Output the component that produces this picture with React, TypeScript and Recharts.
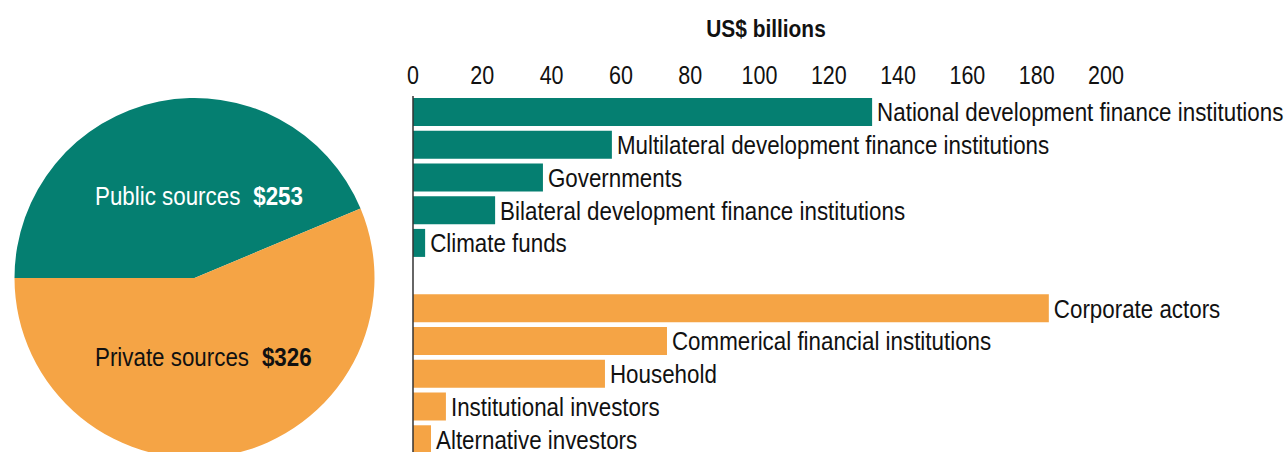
import React from 'react';
import { PieChart, Pie, Cell, BarChart, Bar, XAxis, YAxis, LabelList } from 'recharts';

const FONT = '"Liberation Sans", Arial, sans-serif';
const SX = 0.86;
const TEAL = '#057F71';
const ORANGE = '#F5A445';

const sourceNames = ['Public sources', 'Private sources'];
const sourceTotals = [253, 326];
const sourceKeys = ['public', 'private'];

const categories = [
  'National development finance institutions',
  'Multilateral development finance institutions',
  'Governments',
  'Bilateral development finance institutions',
  'Climate funds',
  '',
  'Corporate actors',
  'Commerical financial institutions',
  'Household',
  'Institutional investors',
  'Alternative investors',
];
const values: (number | null)[] = [132.5, 57.4, 37.5, 23.7, 3.5, null, 183.5, 73.3, 55.4, 9.5, 5.2];
const groups = ['public', 'public', 'public', 'public', 'public', '', 'private', 'private', 'private', 'private', 'private'];
const xTicks = [0, 20, 40, 60, 80, 100, 120, 140, 160, 180, 200];

const colorOf: Record<string, string> = { public: TEAL, private: ORANGE };
const labelColor: Record<string, string> = { public: '#ffffff', private: '#111111' };

const pieData = sourceNames.map((n, i) => ({ name: n, value: sourceTotals[i], key: sourceKeys[i] }));
const barData = categories.map((c, i) => ({ name: c, value: values[i], group: groups[i] }));

const labelOffsets: Record<string, { dx: number; dy: number }> = {
  public: { dx: -99.5, dy: -73 },
  private: { dx: -99.5, dy: 88 },
};

const renderPieLabel = (props: any) => {
  const { cx, cy, index } = props;
  const d = pieData[index];
  const o = labelOffsets[d.key];
  return (
    <text
      transform={`translate(${cx + o.dx}, ${cy + o.dy}) scale(${SX}, 1)`}
      x={0}
      y={0}
      textAnchor="start"
      fill={labelColor[d.key]}
      fontFamily={FONT}
      fontSize={26}
    >
      <tspan>{d.name}</tspan>
      <tspan dx={15} fontWeight="bold">{'$' + d.value}</tspan>
    </text>
  );
};

const renderTick = (props: any) => {
  const { x, y, payload } = props;
  return (
    <text
      transform={`translate(${x}, ${y - 4}) scale(${SX}, 1)`}
      x={0}
      y={0}
      textAnchor="middle"
      fill="#111"
      fontFamily={FONT}
      fontSize={25}
    >
      {payload.value}
    </text>
  );
};

const renderBarLabel = (props: any) => {
  const { x, y, width, height, value } = props;
  if (!value) return null;
  const tx = Number(x) + Number(width) + 5;
  const ty = Number(y) + Number(height) / 2;
  return (
    <text
      transform={`translate(${tx}, ${ty}) scale(${SX}, 1)`}
      x={0}
      y={0}
      dy="0.36em"
      textAnchor="start"
      fill="#111"
      fontFamily={FONT}
      fontSize={26}
    >
      {value}
    </text>
  );
};

export default function App() {
  return (
    <div style={{ position: 'absolute', left: 0, top: 0, width: 1285, height: 452, overflow: 'hidden', background: '#fff', fontFamily: FONT }}>
      <div style={{ position: 'absolute', left: 0, top: 0 }}>
        <PieChart width={400} height={452} margin={{ top: 0, right: 0, bottom: 0, left: 0 }}>
          <Pie
            data={pieData}
            dataKey="value"
            nameKey="name"
            cx={194.5}
            cy={278}
            outerRadius={180}
            innerRadius={0}
            startAngle={180}
            endAngle={-180}
            stroke="none"
            isAnimationActive={false}
            labelLine={false}
            label={renderPieLabel}
          >
            {pieData.map((d) => (
              <Cell key={d.key} fill={colorOf[d.key]} />
            ))}
          </Pie>
        </PieChart>
      </div>
      <div
        style={{
          position: 'absolute',
          left: 413,
          width: 706,
          top: 15,
          textAlign: 'center',
          fontFamily: FONT,
          fontWeight: 'bold',
          fontSize: 24,
          color: '#111',
          lineHeight: '28px',
          transform: 'scaleX(0.87)',
          transformOrigin: '353px 0',
        }}
      >
        US$ billions
      </div>
      <div style={{ position: 'absolute', left: 0, top: 0 }}>
        <BarChart
          width={1285}
          height={456}
          data={barData}
          layout="vertical"
          margin={{ top: 66, right: 179, bottom: 0, left: 353 }}
          barSize={28}
        >
          <XAxis
            type="number"
            orientation="top"
            domain={[0, 200]}
            ticks={xTicks}
            axisLine={false}
            tickLine={false}
            height={30}
            tick={renderTick}
            interval={0}
          />
          <YAxis
            type="category"
            dataKey="name"
            width={60}
            tick={false}
            tickLine={false}
            axisLine={{ stroke: '#333', strokeWidth: 1.5 }}
          />
          <Bar dataKey="value" isAnimationActive={false}>
            {barData.map((d, i) => (
              <Cell key={i} fill={colorOf[d.group] || 'transparent'} />
            ))}
            <LabelList dataKey="name" position="right" content={renderBarLabel} />
          </Bar>
        </BarChart>
      </div>
    </div>
  );
}
